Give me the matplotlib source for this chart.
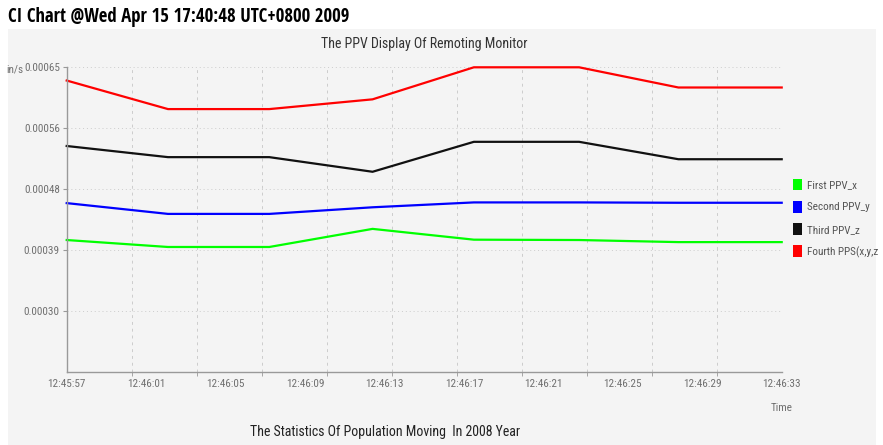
import matplotlib
matplotlib.use("Agg")
import matplotlib.pyplot as plt
from matplotlib.patches import Patch, Rectangle
import numpy as np

# sample times, seconds after 12:45:57
t_sec = [0, 5.1, 10.2, 15.4, 20.5, 25.8, 30.8, 36]
first_x = [0.000402, 0.000392, 0.000392, 0.000418, 0.0004025, 0.000402, 0.000399, 0.000399]
second_y = [0.000455, 0.0004395, 0.0004395, 0.000449, 0.000456, 0.000456, 0.0004555, 0.0004555]
third_z = [0.000537, 0.000521, 0.000521, 0.000500, 0.000543, 0.000543, 0.000518, 0.000518]
fourth_xyz = [0.000631, 0.000590, 0.000590, 0.000604, 0.00065, 0.00065, 0.000621, 0.000621]

series_names = ["First PPV_x", "Second PPV_y", "Third PPV_z", "Fourth PPS(x,y,z"]
series_colors = ["#00ff00", "#0000ff", "#111111", "#ff0000"]

x_tick_pos = [0, 4, 8, 12, 16, 20, 24, 28, 32, 36]
x_tick_labels = ["12:45:57", "12:46:01", "12:46:05", "12:46:09", "12:46:13",
                 "12:46:17", "12:46:21", "12:46:25", "12:46:29", "12:46:33"]
y_tick_pos = [0.0003, 0.0003875, 0.000475, 0.0005625, 0.00065]
y_tick_labels = ["0.00030", "0.00039", "0.00048", "0.00056", "0.00065"]

narrow = ["Roboto Condensed", "DejaVu Sans"]
title_font = ["Open Sans Condensed", "PT Sans Narrow", "DejaVu Sans"]
bg = "#f4f4f4"
grid_col = "#cccccc"
txt_col = "#707070"

W, H = 883, 445
fig = plt.figure(figsize=(W / 100, H / 100), dpi=100)
fig.patch.set_facecolor("white")
fig.patches.append(Rectangle((8 / W, 0), 868 / W, 1 - 29 / H, transform=fig.transFigure,
                             facecolor=bg, edgecolor="none", zorder=-5))

ax = fig.add_axes([66.7 / W, 1 - 372 / H, (781.7 - 66.7) / W, (372 - 67.3) / H])
ax.set_facecolor(bg)

for vals, name, col in zip([first_x, second_y, third_z, fourth_xyz], series_names, series_colors):
    ax.plot(t_sec, vals, color=col, lw=1.6, label=name, solid_joinstyle="round", clip_on=False)

ax.set_xlim(0, 36)
ax.set_ylim(0.0002125, 0.00065)

# vertical grid + small ticks
ax.set_xticks(np.linspace(0, 36, 12), minor=True)
ax.grid(True, which="minor", axis="x", color=grid_col, lw=0.7, ls=(0, (3, 4)))
ax.tick_params(axis="x", which="minor", length=3, color="#999999", direction="out")
ax.set_xticks(x_tick_pos)
ax.set_xticklabels(x_tick_labels, fontsize=8, color=txt_col, family=narrow)
ax.tick_params(axis="x", which="major", length=0, pad=5)

ax.set_yticks(y_tick_pos)
ax.set_yticklabels(y_tick_labels, fontsize=8, color=txt_col, family=narrow)
ax.tick_params(axis="y", length=3, color="#999999", pad=2)
ax.grid(True, which="major", axis="y", color=grid_col, lw=0.7, ls=(0, (1, 3)))

for s in ["top", "right"]:
    ax.spines[s].set_visible(False)
for s in ["left", "bottom"]:
    ax.spines[s].set_color("#999999")
    ax.spines[s].set_linewidth(1.0)

# legend with square swatches
handles = [Patch(facecolor=c, edgecolor="none", label=n) for n, c in zip(series_names, series_colors)]
ax.legend(handles=handles, loc="center left", bbox_to_anchor=(1.0, 0.505), frameon=False,
          handlelength=0.8, handleheight=1.25, handletextpad=0.5, labelspacing=0.95,
          borderaxespad=0.6, prop={"family": narrow, "size": 8}, labelcolor="#555555")

# texts
fig.text(8 / W, 1 - 17 / H, "CI Chart @Wed Apr 15 17:40:48 UTC+0800 2009", fontsize=13.5,
         fontweight="bold", family=title_font, va="center", ha="left", color="black")
fig.text(424 / W, 1 - 44 / H, "The PPV Display Of Remoting Monitor", fontsize=10,
         family=narrow, ha="center", va="center", color="#333333")
fig.text(15 / W, 1 - 69 / H, "in/s", fontsize=8, family=narrow, ha="center", va="center", color=txt_col)
fig.text(782 / W, 1 - 408 / H, "Time", fontsize=8, family=narrow, ha="center", va="center", color=txt_col)
fig.text(385 / W, 1 - 432 / H, "The Statistics Of Population Moving  In 2008 Year", fontsize=10,
         family=narrow, ha="center", va="center", color="#222222")

fig.savefig("out.png", dpi=100, facecolor=fig.get_facecolor())
